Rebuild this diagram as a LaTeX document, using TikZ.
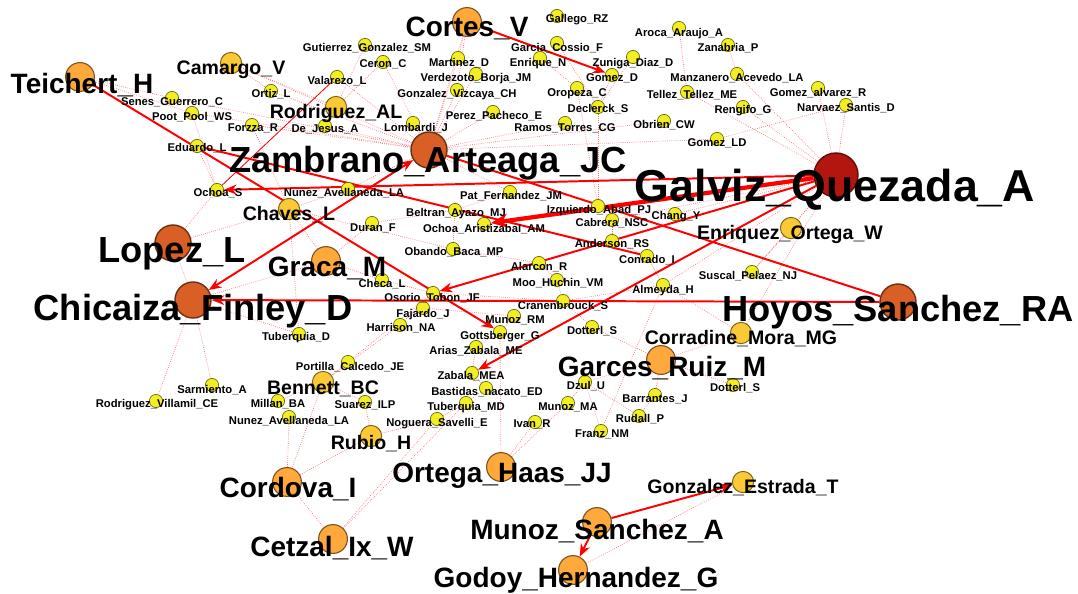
\documentclass[tikz,border=0pt]{standalone}
\usepackage{fontspec}
\setmainfont{Liberation Sans}
\usetikzlibrary{arrows.meta}

\pgfdeclarelayer{edges}
\pgfdeclarelayer{names}
\pgfsetlayers{edges,main,names}

\definecolor{hubred}{HTML}{B3150F}
\definecolor{rust}{HTML}{D95F26}
\definecolor{amber}{HTML}{FFA83C}
\definecolor{gold}{HTML}{FBC935}
\definecolor{lemon}{HTML}{F3EE22}

% name/circle x/circle y/label x/label y/label
\newcommand\hubList{%
Galviz/836/175/835/185/Galviz\_Quezada\_A}
\newcommand\bigList{%
Zambrano/429/150/428/160/Zambrano\_Arteaga\_JC,%
Hoyos/898/302/898/308/Hoyos\_Sanchez\_RA,%
Chicaiza/193/300/193/307/Chicaiza\_Finley\_D,%
Lopez/173/243/172/250/Lopez\_L}
\newcommand\midList{%
Teichert/80/77/82/82/Teichert\_H,%
Cortes/467/22/467/26/Cortes\_V,%
Graca/326/261/327/266/Graca\_M,%
Garces/661/360/662/365/Garces\_Ruiz\_M,%
Cordova/287/482/288/486/Cordova\_I,%
Cetzal/333/539/332/545/Cetzal\_Ix\_W,%
OrtegaH/501/467/502/473/Ortega\_Haas\_JJ,%
MunozS/597/522/597/528/Munoz\_Sanchez\_A,%
Godoy/573/570/576/577/Godoy\_Hernandez\_G}
\newcommand\smallList{%
Camargo/231/63/231/68/Camargo\_V,%
RodriguezAL/336/107/336/112/Rodriguez\_AL,%
Chaves/289/209/289/213/Chaves\_L,%
Bennett/323/382/323/387/Bennett\_BC,%
Rubio/371/436/371/442/Rubio\_H,%
GonzalezE/743/482/743/486/Gonzalez\_Estrada\_T,%
Enriquez/791/228/790/233/Enriquez\_Ortega\_W,%
Corradine/741/333/741/337/Corradine\_Mora\_MG}
\newcommand\tinyList{%
Gallego/557/16/577/18/Gallego\_RZ,%
Aroca/679/28/679/32/Aroca\_Araujo\_A,%
Zanabria/728/45/728/47/Zanabria\_P,%
GarciaC/557/43/557/47/Garcia\_Cossio\_F,%
Gutierrez/365/45/367/47/Gutierrez\_Gonzalez\_SM,%
Ceron/383/62/383/63/Ceron\_C,%
MartinezD/458/58/459/62/Martinez\_D,%
EnriqueN/540/58/538/62/Enrique\_N,%
Zuniga/633/57/633/62/Zuniga\_Diaz\_D,%
GomezD/612/75/612/77/Gomez\_D,%
Verdezoto/476/74/476/77/Verdezoto\_Borja\_JM,%
GonzalezV/457/90/457/93/Gonzalez\_Vizcaya\_CH,%
Oropeza/577/88/577/93/Oropeza\_C,%
Manzanero/737/74/737/77/Manzanero\_Acevedo\_LA,%
Tellez/687/92/692/94/Tellez\_Tellez\_ME,%
GomezR/818/88/818/92/Gomez\_alvarez\_R,%
Rengifo/743/107/743/109/Rengifo\_G,%
Narvaez/846/105/846/107/Narvaez\_Santis\_D,%
Declerck/598/107/598/108/Declerck\_S,%
PerezP/493/112/494/115/Perez\_Pacheco\_E,%
RamosT/565/123/565/127/Ramos\_Torres\_CG,%
Obrien/664/121/664/124/Obrien\_CW,%
GomezLD/717/139/717/142/Gomez\_LD,%
Lombardi/413/123/416/127/Lombardi\_J,%
Valarezo/337/77/337/80/Valarezo\_L,%
OrtizL/271/91/271/93/Ortiz\_L,%
Senes/172/98/172/101/Senes\_Guerrero\_C,%
Poot/192/113/192/116/Poot\_Pool\_WS,%
Forzza/252/125/253/127/Forzza\_R,%
DeJesus/325/126/325/128/De\_Jesus\_A,%
Eduardo/197/146/197/147/Eduardo\_L,%
OchoaS/217/190/218/192/Ochoa\_S,%
NunezA/348/189/344/192/Nunez\_Avellaneda\_LA,%
PatF/510/192/511/195/Pat\_Fernandez\_JM,%
Beltran/455/210/456/212/Beltran\_Ayazo\_MJ,%
Izquierdo/598/206/599/209/Izquierdo\_Abad\_PJ,%
Chang/675/214/676/215/Chang\_Y,%
Cabrera/612/220/612/222/Cabrera\_NSC,%
OchoaA/484/224/484/228/Ochoa\_Aristizabal\_AM,%
Duran/372/223/373/227/Duran\_F,%
Obando/453/249/454/251/Obando\_Baca\_MP,%
Anderson/612/241/612/243/Anderson\_RS,%
Conrado/647/256/647/259/Conrado\_I,%
Alarcon/539/263/539/266/Alarcon\_R,%
Moo/557/280/558/282/Moo\_Huchin\_VM,%
Almeyda/663/285/663/289/Almeyda\_H,%
Suscal/752/272/748/275/Suscal\_Pelaez\_NJ,%
Checa/382/280/382/283/Checa\_L,%
Osorio/433/293/432/297/Osorio\_Tobon\_JF,%
Cranen/563/301/563/305/Cranenbrouck\_S,%
Fajardo/423/308/423/313/Fajardo\_J,%
MunozRM/514/316/515/319/Munoz\_RM,%
Harrison/400/325/401/327/Harrison\_NA,%
DotterlA/592/327/592/330/Dotterl\_S,%
Gottsberger/500/332/500/335/Gottsberger\_G,%
Arias/476/347/476/350/Arias\_Zabala\_ME,%
TuberquiaD/299/334/296/336/Tuberquia\_D,%
Portilla/348/362/350/366/Portilla\_Calcedo\_JE,%
Sarmiento/212/385/212/389/Sarmiento\_A,%
RodriguezV/156/401/157/403/Rodriguez\_Villamil\_CE,%
Millan/278/401/278/403/Millan\_BA,%
Suarez/365/402/365/404/Suarez\_ILP,%
NunezB/289/417/289/420/Nunez\_Avellaneda\_LA,%
Noguera/437/419/437/422/Noguera\_Savelli\_E,%
TuberquiaMD/466/403/466/406/Tuberquia\_MD,%
Bastidas/486/388/487/391/Bastidas\_nacato\_ED,%
Zabala/472/373/471/375/Zabala\_MEA,%
Ivan/535/422/532/423/Ivan\_R,%
MunozMA/568/403/568/406/Munoz\_MA,%
Dzul/585/382/586/385/Dzul\_U,%
Barrantes/655/395/655/398/Barrantes\_J,%
Rudall/639/416/640/418/Rudall\_P,%
Franz/601/431/602/433/Franz\_NM,%
DotterlB/733/385/735/387/Dotterl\_S}

\begin{document}
\begin{tikzpicture}[x=0.025cm, y=-0.025cm,
    hub/.style={circle, draw=hubred!55!black, fill=hubred, line width=1pt, minimum size=1.1cm, inner sep=0pt},
    big/.style={circle, draw=rust!50!black, fill=rust, line width=1pt, minimum size=0.9cm, inner sep=0pt},
    mid/.style={circle, draw=amber!50!black, fill=amber, line width=0.8pt, minimum size=0.72cm, inner sep=0pt},
    small/.style={circle, draw=gold!50!black, fill=gold, line width=0.7pt, minimum size=0.53cm, inner sep=0pt},
    tiny/.style={circle, draw=lemon!45!black, fill=lemon, line width=0.5pt, minimum size=0.33cm, inner sep=0pt},
    txtXL/.style={font=\fontsize{31.8}{34}\selectfont\bfseries, inner sep=0pt, yshift=-3.2pt},
    txtL/.style={font=\fontsize{25.8}{28}\selectfont\bfseries, inner sep=0pt, yshift=-2.6pt},
    txtM/.style={font=\fontsize{19.9}{22}\selectfont\bfseries, inner sep=0pt, yshift=-2pt},
    txtS/.style={font=\fontsize{13.9}{15}\selectfont\bfseries, inner sep=0pt, yshift=-1.4pt},
    txtXS/.style={font=\fontsize{8}{9}\selectfont\bfseries, inner sep=0pt, yshift=-0.8pt},
    link/.style={draw=red, line width=1.4pt, -{Stealth[length=9pt, width=7pt]}},
    heavy/.style={draw=red, line width=3pt, -{Stealth[length=12pt, width=10pt]}},
    twoway/.style={draw=red, line width=1.4pt, {Stealth[length=9pt, width=7pt]}-{Stealth[length=9pt, width=7pt]}},
    plain/.style={draw=red, line width=1.4pt},
    weak/.style={draw=red!55, densely dotted, line width=0.5pt}]
    \useasboundingbox (0,0) rectangle (1078,593);

    % authors
    \foreach \n/\cx/\cy/\lx/\ly/\t in \hubList {
        \node[hub] (\n) at (\cx,\cy) {};
        \begin{pgfonlayer}{names}\node[txtXL] (\n-t) at (\lx,\ly) {\t};\end{pgfonlayer}
    }
    \foreach \n/\cx/\cy/\lx/\ly/\t in \bigList {
        \node[big] (\n) at (\cx,\cy) {};
        \begin{pgfonlayer}{names}\node[txtL] (\n-t) at (\lx,\ly) {\t};\end{pgfonlayer}
    }
    \foreach \n/\cx/\cy/\lx/\ly/\t in \midList {
        \node[mid] (\n) at (\cx,\cy) {};
        \begin{pgfonlayer}{names}\node[txtM] (\n-t) at (\lx,\ly) {\t};\end{pgfonlayer}
    }
    \foreach \n/\cx/\cy/\lx/\ly/\t in \smallList {
        \node[small] (\n) at (\cx,\cy) {};
        \begin{pgfonlayer}{names}\node[txtS] (\n-t) at (\lx,\ly) {\t};\end{pgfonlayer}
    }
    \foreach \n/\cx/\cy/\lx/\ly/\t in \tinyList {
        \node[tiny] (\n) at (\cx,\cy) {};
        \begin{pgfonlayer}{names}\node[txtXS] (\n-t) at (\lx,\ly) {\t};\end{pgfonlayer}
    }

    \begin{pgfonlayer}{edges}
    % weak ties
    \foreach \a/\b in {Teichert/Senes,Teichert/Poot,Senes/Zambrano,Poot/Zambrano,Poot/OchoaS,Eduardo/OchoaS,%
Camargo/RodriguezAL,Camargo/Zambrano,Camargo/OrtizL,OrtizL/Zambrano,Forzza/Chaves,Forzza/Zambrano,%
DeJesus/Zambrano,Valarezo/Zambrano,Gutierrez/RodriguezAL,Ceron/Zambrano,Ceron/RodriguezAL,%
Cortes/MartinezD,Cortes/GonzalezV,Cortes/Zambrano,MartinezD/Zambrano,Verdezoto/Zambrano,%
GonzalezV/Zambrano,Lombardi/Zambrano,PerezP/Zambrano,RamosT/Zambrano,Oropeza/Izquierdo,%
GarciaC/Declerck,EnriqueN/Oropeza,Zuniga/Declerck,GomezD/Declerck,Declerck/Izquierdo,%
Obrien/Zambrano,GomezLD/Zambrano,Tellez/Galviz,Aroca/Tellez,Zanabria/Manzanero,Manzanero/Galviz,%
Rengifo/Galviz,GomezR/Galviz,Narvaez/GomezLD,Narvaez/Galviz,Galviz/Enriquez,Galviz/Chang,%
Galviz/Cabrera,Galviz/Anderson,Galviz/Suscal,Galviz/Almeyda,Galviz/Corradine,%
Lopez/Chicaiza,Lopez/OchoaS,Lopez/Chaves,Chicaiza/Sarmiento,Chicaiza/RodriguezV,Chicaiza/TuberquiaD,%
Graca/Chaves,Graca/Checa,Graca/Duran,Chaves/Obando,Chaves/TuberquiaD,Checa/Osorio,Osorio/Fajardo,%
Osorio/Harrison,Osorio/Cranen,Osorio/Portilla,Harrison/Bennett,Portilla/Bennett,Bennett/Millan,%
Bennett/Suarez,Bennett/Cordova,Cordova/NunezB,Cordova/Rubio,Cordova/Cetzal,Cetzal/Noguera,%
Cetzal/TuberquiaMD,Rubio/Noguera,Rubio/Suarez,Noguera/TuberquiaMD,TuberquiaMD/Bastidas,%
Bastidas/Zabala,Zabala/Arias,Arias/Gottsberger,Gottsberger/MunozRM,Gottsberger/OrtegaH,%
OrtegaH/Ivan,OrtegaH/MunozMA,MunozMA/Dzul,Dzul/Garces,Dzul/Rudall,Garces/Barrantes,Garces/DotterlB,%
Garces/DotterlA,Franz/Dzul,Cranen/Moo,Moo/Alarcon,Alarcon/Obando,Obando/Beltran,Beltran/PatF,%
Beltran/Duran,Izquierdo/Cabrera,Cabrera/Anderson,Anderson/Conrado,Conrado/Almeyda,Almeyda/Cranen,%
Corradine/Garces,Corradine/Almeyda,Enriquez/Suscal,Godoy/GonzalezE,NunezA/Chaves,NunezA/Zambrano,%
PatF/Zambrano,Fajardo/MunozRM,DotterlA/Cranen,Chicaiza/Graca,Franz/Almeyda,Rudall/Barrantes}
        \draw[weak] (\a) -- (\b);

    % strong ties
    \draw[link] (Teichert) -- (Gottsberger);
    \draw[plain] (Eduardo) -- (Conrado);
    \draw[link] (Galviz) -- (OchoaS);
    \draw[heavy] (Galviz) -- (OchoaA);
    \draw[link] (Galviz) -- (Osorio);
    \draw[link] (Galviz) -- (Zabala);
    \draw[plain] (Zambrano) -- (Hoyos);
    \draw[link] (Hoyos) -- (Chicaiza);
    \draw[twoway] (Chicaiza) -- (Zambrano);
    \draw[link] (Cortes) -- (GomezD);
    \draw[link] (MunozS) -- (GonzalezE);
    \draw[link] (MunozS) -- (Godoy);
    \draw[draw=red, line width=0.6pt] (Valarezo) -- (OchoaS);
    \end{pgfonlayer}
\end{tikzpicture}
\end{document}
